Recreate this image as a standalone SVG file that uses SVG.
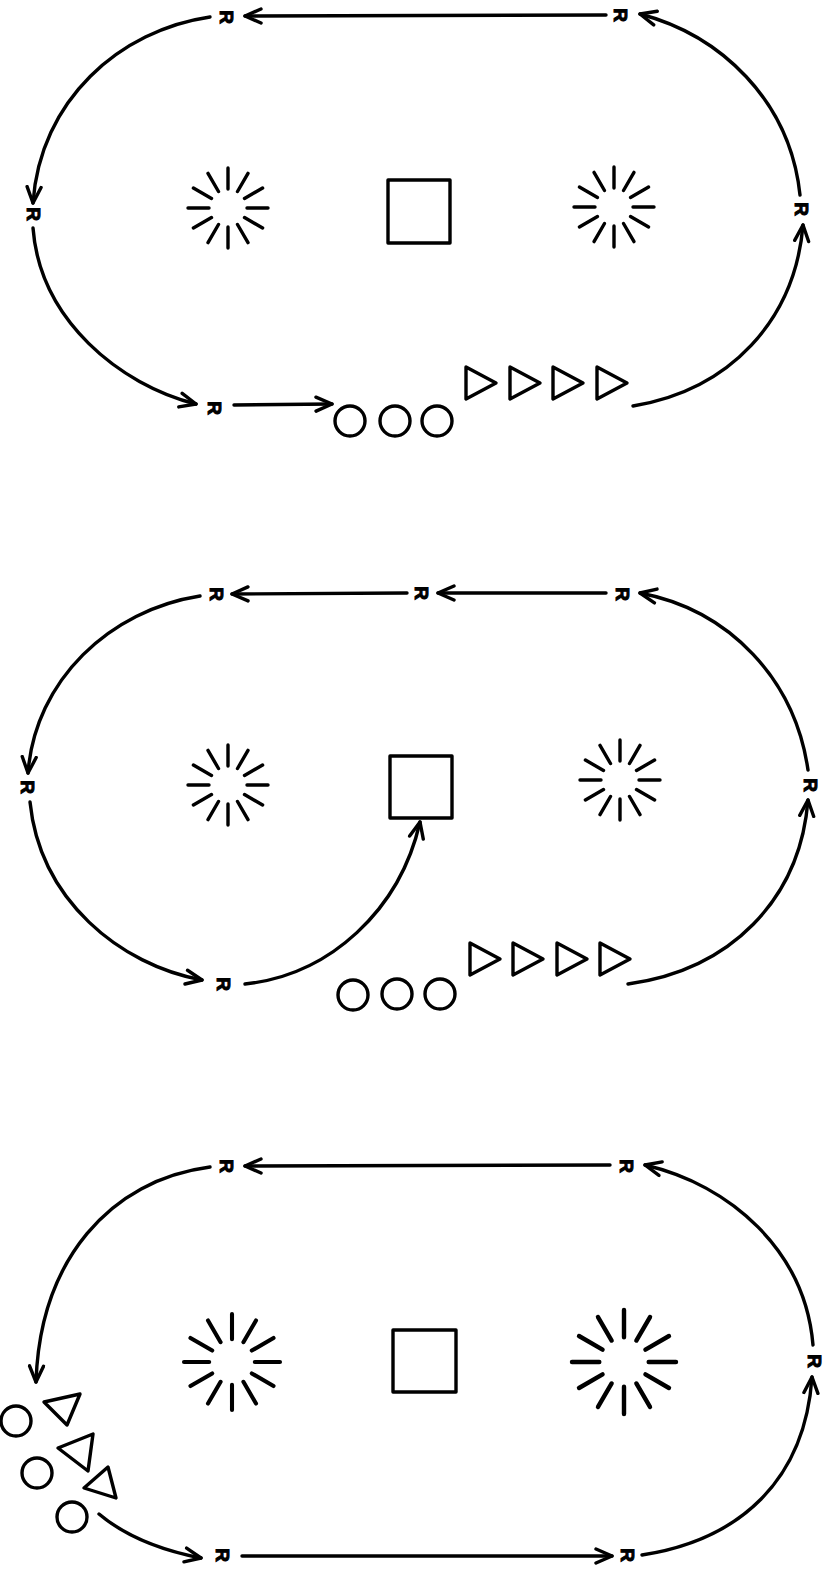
<svg xmlns="http://www.w3.org/2000/svg" xmlns:xlink="http://www.w3.org/1999/xlink" width="827" height="1574" viewBox="0 0 827 1574">
<style>
.ln{fill:none;stroke:#000;stroke-width:3.4;stroke-linecap:round;stroke-linejoin:round}
.sh{fill:#fff;stroke:#000;stroke-width:3.4;stroke-linejoin:round}
.r{font-family:"Liberation Sans",Arial,sans-serif;font-weight:bold;font-size:19px;fill:#000;stroke:#000;stroke-width:1;text-anchor:middle;dominant-baseline:central}
</style>
<defs>
<marker id="ah" viewBox="-18 -9 20 18" refX="0" refY="0" markerWidth="20" markerHeight="18" markerUnits="userSpaceOnUse" orient="auto">
<path d="M-16,-7 L0,0 L-16,7" fill="none" stroke="#000" stroke-width="3.4" stroke-linecap="round" stroke-linejoin="round"/>
</marker>
<g id="burst" class="ln">
<path d="M19,0L40,0M16.5,9.5L34.6,20M9.5,16.5L20,34.6M0,19L0,40M-9.5,16.5L-20,34.6M-16.5,9.5L-34.6,20M-19,0L-40,0M-16.5,-9.5L-34.6,-20M-9.5,-16.5L-20,-34.6M0,-19L0,-40M9.5,-16.5L20,-34.6M16.5,-9.5L34.6,-20"/>
</g>
<path id="tri" d="M0,-16 L30,0 L0,16 Z"/>
</defs>

<g id="connectors" class="ln">
<path d="M606,15 L245,16" marker-end="url(#ah)"/>
<path d="M210,17 C120,30 40,100 33,203" marker-end="url(#ah)"/>
<path d="M33,228 C40,320 120,385 196,404" marker-end="url(#ah)"/>
<path d="M234,405 L332,404" marker-end="url(#ah)"/>
<path d="M633,406 C730,390 795,320 803,225" marker-end="url(#ah)"/>
<path d="M800,195 C790,100 720,35 640,14" marker-end="url(#ah)"/>

<path d="M606,593 L438,593" marker-end="url(#ah)"/>
<path d="M407,593 L232,594" marker-end="url(#ah)"/>
<path d="M200,596 C110,610 35,680 28,773" marker-end="url(#ah)"/>
<path d="M30,802 C40,900 120,965 202,980" marker-end="url(#ah)"/>
<path d="M245,984 C330,975 400,910 420,822" marker-end="url(#ah)"/>
<path d="M628,984 C730,970 800,900 808,800" marker-end="url(#ah)"/>
<path d="M808,770 C795,680 730,610 640,593" marker-end="url(#ah)"/>

<path d="M610,1165 L245,1166" marker-end="url(#ah)"/>
<path d="M210,1167 C110,1180 40,1260 36,1382" marker-end="url(#ah)"/>
<path d="M99,1514 C130,1540 170,1552 201,1558" marker-end="url(#ah)"/>
<path d="M242,1556 L612,1556" marker-end="url(#ah)"/>
<path d="M642,1555 C740,1540 805,1480 812,1377" marker-end="url(#ah)"/>
<path d="M813,1345 C805,1250 730,1185 645,1165" marker-end="url(#ah)"/>
</g>

<g id="labels">
<text class="r" transform="translate(226,17) rotate(90)">R</text>
<text class="r" transform="translate(620,15) rotate(90)">R</text>
<text class="r" transform="translate(33,214) rotate(90)">R</text>
<text class="r" transform="translate(801,209) rotate(90)">R</text>
<text class="r" transform="translate(214,408) rotate(90)">R</text>

<text class="r" transform="translate(216,594) rotate(90)">R</text>
<text class="r" transform="translate(421,593) rotate(90)">R</text>
<text class="r" transform="translate(622,594) rotate(90)">R</text>
<text class="r" transform="translate(27,787) rotate(90)">R</text>
<text class="r" transform="translate(810,785) rotate(90)">R</text>
<text class="r" transform="translate(223,984) rotate(90)">R</text>

<text class="r" transform="translate(226,1166) rotate(90)">R</text>
<text class="r" transform="translate(626,1166) rotate(90)">R</text>
<text class="r" transform="translate(814,1361) rotate(90)">R</text>
<text class="r" transform="translate(222,1555) rotate(90)">R</text>
<text class="r" transform="translate(627,1555) rotate(90)">R</text>
</g>

<!-- Section 1 -->
<g id="burst1L"><use xlink:href="#burst" transform="translate(228,208)"/></g>
<g id="square1"><rect class="sh" x="388" y="180" width="62" height="63"/></g>
<g id="burst1R"><use xlink:href="#burst" transform="translate(614,207)"/></g>
<g id="circles1">
<circle class="sh" cx="350" cy="421" r="15"/>
<circle class="sh" cx="395" cy="421" r="15"/>
<circle class="sh" cx="437" cy="421" r="15"/>
</g>
<g id="triangles1">
<use xlink:href="#tri" class="sh" transform="translate(466,383)"/>
<use xlink:href="#tri" class="sh" transform="translate(510,383)"/>
<use xlink:href="#tri" class="sh" transform="translate(553,383)"/>
<use xlink:href="#tri" class="sh" transform="translate(597,383)"/>
</g>

<!-- Section 2 -->
<g id="burst2L"><use xlink:href="#burst" transform="translate(228,785)"/></g>
<g id="square2"><rect class="sh" x="390" y="756" width="62" height="62"/></g>
<g id="burst2R"><use xlink:href="#burst" transform="translate(620,780)"/></g>
<g id="circles2">
<circle class="sh" cx="353" cy="995" r="15"/>
<circle class="sh" cx="397" cy="994" r="15"/>
<circle class="sh" cx="440" cy="994" r="15"/>
</g>
<g id="triangles2">
<use xlink:href="#tri" class="sh" transform="translate(470,959)"/>
<use xlink:href="#tri" class="sh" transform="translate(513,959)"/>
<use xlink:href="#tri" class="sh" transform="translate(557,959)"/>
<use xlink:href="#tri" class="sh" transform="translate(600,959)"/>
</g>

<!-- Section 3 -->
<g id="burst3L"><use xlink:href="#burst" transform="translate(232,1362) scale(1.2)"/></g>
<g id="square3"><rect class="sh" x="393" y="1330" width="63" height="62"/></g>
<g id="burst3R"><use xlink:href="#burst" transform="translate(624,1362) scale(1.3)"/></g>
<g id="cluster3">
<circle class="sh" cx="16" cy="1421" r="15"/>
<circle class="sh" cx="37" cy="1473" r="15"/>
<circle class="sh" cx="72" cy="1517" r="15"/>
<path class="sh" d="M44,1402 L80,1394 L67,1425 Z"/>
<path class="sh" d="M58,1448 L93,1434 L88,1471 Z"/>
<path class="sh" d="M84,1488 L108,1467 L116,1498 Z"/>
</g>
</svg>
